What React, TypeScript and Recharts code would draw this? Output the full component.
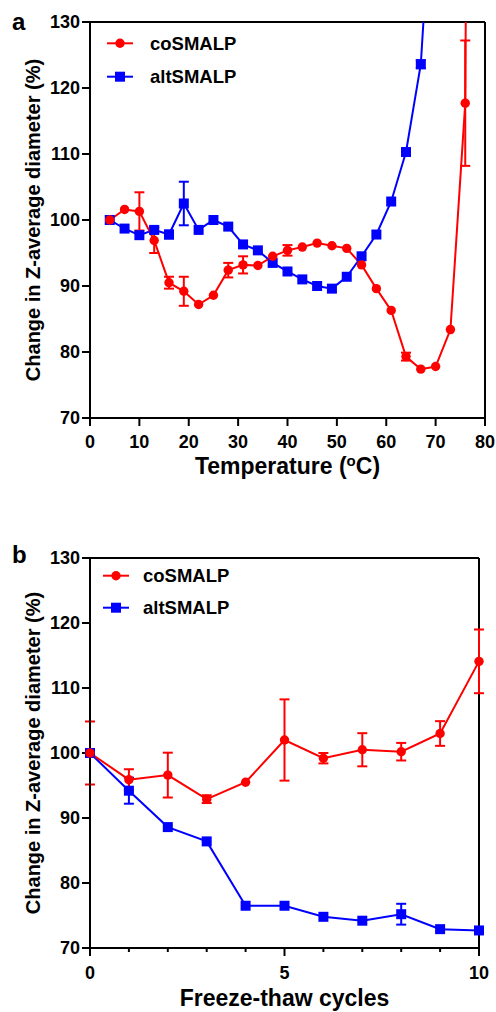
import React from "react";
import { LineChart, Line, XAxis, YAxis, ErrorBar, ReferenceLine } from "recharts";

const RED = "#FF0000";
const BLUE = "#0000FF";
const FONT = '"Liberation Sans", Arial, Helvetica, sans-serif';

// panel a: temperature scan
const tempTicks = [0, 10, 20, 30, 40, 50, 60, 70, 80];
const coTempX = [4, 7, 10, 13, 16, 19, 22, 25, 28, 31, 34, 37, 40, 43, 46, 49, 52, 55, 58, 61, 64, 67, 70, 73, 76, 79];
const coTempY = [100, 101.6, 101.3, 96.9, 90.5, 89.2, 87.2, 88.6, 92.4, 93.2, 93.1, 94.5, 95.4, 95.9, 96.5, 96.1, 95.7, 93.2, 89.6, 86.3, 79.3, 77.4, 77.8, 83.4, 117.7, 500];
const coTempErr = [null, null, 2.9, 1.9, 0.9, 2.2, null, null, 1.1, 1.3, null, null, 0.8, null, null, null, null, null, null, null, 0.6, null, null, null, 9.5, null];
const altTempX = [4, 7, 10, 13, 16, 19, 22, 25, 28, 31, 34, 37, 40, 43, 46, 49, 52, 55, 58, 61, 64, 67, 70];
const altTempY = [100, 98.7, 97.7, 98.5, 97.8, 102.5, 98.5, 100, 99.0, 96.3, 95.4, 93.5, 92.2, 91.0, 90.0, 89.6, 91.4, 94.5, 97.8, 102.8, 110.3, 123.6, 160];
const altTempErr = [null, null, null, 0.5, 0.6, 3.3, null, null, null, null, null, null, null, null, null, null, null, null, null, null, null, 0.6, null];

// panel b: freeze-thaw cycles
const cycleTicks = [0, 1, 2, 3, 4, 5, 6, 7, 8, 9, 10];
const cycles = [0, 1, 2, 3, 4, 5, 6, 7, 8, 9, 10];
const coCycleY = [100, 95.9, 96.6, 92.9, 95.5, 102.0, 99.2, 100.5, 100.2, 103.0, 114.1];
const coCycleErr = [4.85, 1.6, 3.45, 0.6, null, 6.25, 0.8, 2.55, 1.35, 1.9, 4.9];
const altCycleY = [100, 94.2, 88.6, 86.4, 76.5, 76.5, 74.8, 74.2, 75.2, 72.9, 72.7];
const altCycleErr = [null, 2.0, null, null, null, null, null, null, 1.6, null, null];

const yTicks = [70, 80, 90, 100, 110, 120, 130];
const Y_MAX = 130;

const toRows = (xs: number[], ys: number[], es: (number | null)[]) =>
  xs.map((x, i) => ({ x, y: ys[i], e: es[i] }));

const circleDot = (p: any) =>
  p.payload.y > Y_MAX ? (
    <g key={`c-${p.index}`} />
  ) : (
    <circle key={`c-${p.index}`} cx={p.cx} cy={p.cy} r={4.7} fill={RED} stroke="none" />
  );

const squareDot = (p: any) =>
  p.payload.y > Y_MAX ? (
    <g key={`s-${p.index}`} />
  ) : (
    <rect key={`s-${p.index}`} x={p.cx - 5} y={p.cy - 5} width={10} height={10} fill={BLUE} stroke="none" />
  );

const tickStyle = { fill: "#000", fontSize: 18, fontWeight: 700, fontFamily: FONT };

const yLabel = (props: any) => {
  const vb = props.viewBox;
  const cy = vb.y + vb.height / 2;
  return (
    <text
      x={40}
      y={cy}
      transform={`rotate(-90 40 ${cy})`}
      textAnchor="middle"
      fontFamily={FONT}
      fontWeight={700}
      fontSize={20}
      fill="#000"
    >
      Change in Z-average diameter (%)
    </text>
  );
};

const tempLabel = (props: any) => {
  const vb = props.viewBox;
  return (
    <text
      x={vb.x + vb.width / 2}
      y={vb.y + 56}
      textAnchor="middle"
      fontFamily={FONT}
      fontWeight={700}
      fontSize={23}
      fill="#000"
    >
      <tspan>Temperature (</tspan>
      <tspan dy={-8} fontSize={15}>o</tspan>
      <tspan dy={8}>C)</tspan>
    </text>
  );
};

const cycleLabel = (props: any) => {
  const vb = props.viewBox;
  return (
    <text
      x={vb.x + vb.width / 2}
      y={vb.y + 58}
      textAnchor="middle"
      fontFamily={FONT}
      fontWeight={700}
      fontSize={23}
      fill="#000"
    >
      Freeze-thaw cycles
    </text>
  );
};

// minor ticks are shorter, labels only on 0, 5, 10
const CycleTick = (props: any) => {
  const { x, y, payload } = props;
  const axisY = y - 18;
  const major = payload.value % 5 === 0;
  return (
    <g>
      <line x1={x} x2={x} y1={axisY} y2={axisY + (major ? 8 : 4)} stroke="#000" strokeWidth={2} />
      {major && (
        <text x={x} y={y} dy="0.71em" textAnchor="middle" {...tickStyle}>
          {payload.value}
        </text>
      )}
    </g>
  );
};

const LegendOverlay = ({ top, lineX, textX, rowGap }: any) => (
  <svg width={496} height={170} style={{ position: "absolute", left: 0, top: 0, pointerEvents: "none" }}>
    <g transform={`translate(0 ${top})`}>
      <line x1={lineX} x2={lineX + 26} y1={0} y2={0} stroke={RED} strokeWidth={2} />
      <circle cx={lineX + 13} cy={0} r={4.7} fill={RED} />
      <text x={textX} y={6.5} fontFamily={FONT} fontWeight={700} fontSize={18.5} fill="#000">
        coSMALP
      </text>
      <line x1={lineX} x2={lineX + 26} y1={rowGap} y2={rowGap} stroke={BLUE} strokeWidth={2} />
      <rect x={lineX + 8} y={rowGap - 5} width={10} height={10} fill={BLUE} />
      <text x={textX} y={rowGap + 6.5} fontFamily={FONT} fontWeight={700} fontSize={18.5} fill="#000">
        altSMALP
      </text>
    </g>
  </svg>
);

const PanelLetter = ({ letter, y }: any) => (
  <div
    style={{
      position: "absolute",
      left: 12,
      top: y,
      fontFamily: FONT,
      fontWeight: 700,
      fontSize: 24,
      lineHeight: "24px",
      color: "#000",
    }}
  >
    {letter}
  </div>
);

export default function App() {
  const coTemp = toRows(coTempX, coTempY, coTempErr);
  const altTemp = toRows(altTempX, altTempY, altTempErr);
  const coCycle = toRows(cycles, coCycleY, coCycleErr);
  const altCycle = toRows(cycles, altCycleY, altCycleErr);

  return (
    <div style={{ position: "absolute", left: 0, top: 0, width: 496, height: 1012, background: "#fff" }}>
      {/* panel a */}
      <div style={{ position: "absolute", left: 0, top: 0, width: 496, height: 490 }}>
        <LineChart width={496} height={490} margin={{ top: 22, right: 11, bottom: 0, left: 0 }}>
          <XAxis
            dataKey="x"
            type="number"
            domain={[0, 80]}
            ticks={tempTicks}
            allowDataOverflow
            height={72}
            axisLine={{ stroke: "#000", strokeWidth: 2 }}
            tickLine={{ stroke: "#000", strokeWidth: 2 }}
            tickSize={8}
            tickMargin={9}
            tick={tickStyle}
            label={tempLabel}
          />
          <YAxis
            type="number"
            domain={[70, 130]}
            ticks={yTicks}
            allowDataOverflow
            width={90}
            axisLine={{ stroke: "#000", strokeWidth: 2 }}
            tickLine={{ stroke: "#000", strokeWidth: 2 }}
            tickSize={8}
            tickMargin={2}
            tick={tickStyle}
            label={yLabel}
          />
          <ReferenceLine y={130} stroke="#000" strokeWidth={2} />
          <ReferenceLine x={80} stroke="#000" strokeWidth={2} />
          <Line
            data={altTemp}
            dataKey="y"
            stroke={BLUE}
            strokeWidth={2}
            dot={squareDot}
            activeDot={false}
            isAnimationActive={false}
          >
            <ErrorBar dataKey="e" width={5} stroke={BLUE} strokeWidth={2} direction="y" />
          </Line>
          <Line
            data={coTemp}
            dataKey="y"
            stroke={RED}
            strokeWidth={2}
            dot={circleDot}
            activeDot={false}
            isAnimationActive={false}
          >
            <ErrorBar dataKey="e" width={5} stroke={RED} strokeWidth={2} direction="y" />
          </Line>
        </LineChart>
        <LegendOverlay top={43.3} lineX={107} textX={150} rowGap={33.4} />
        <PanelLetter letter="a" y={10} />
      </div>

      {/* panel b */}
      <div style={{ position: "absolute", left: 0, top: 490, width: 496, height: 522 }}>
        <LineChart width={496} height={522} margin={{ top: 68, right: 17, bottom: 0, left: 0 }}>
          <XAxis
            dataKey="x"
            type="number"
            domain={[0, 10]}
            ticks={cycleTicks}
            height={64}
            axisLine={{ stroke: "#000", strokeWidth: 2 }}
            tickLine={false}
            tickSize={8}
            tickMargin={10}
            tick={<CycleTick />}
            label={cycleLabel}
          />
          <YAxis
            type="number"
            domain={[70, 130]}
            ticks={yTicks}
            allowDataOverflow
            width={90}
            axisLine={{ stroke: "#000", strokeWidth: 2 }}
            tickLine={{ stroke: "#000", strokeWidth: 2 }}
            tickSize={8}
            tickMargin={2}
            tick={tickStyle}
            label={yLabel}
          />
          <ReferenceLine y={130} stroke="#000" strokeWidth={2} />
          <ReferenceLine x={10} stroke="#000" strokeWidth={2} />
          <Line
            data={altCycle}
            dataKey="y"
            stroke={BLUE}
            strokeWidth={2}
            dot={squareDot}
            activeDot={false}
            isAnimationActive={false}
          >
            <ErrorBar dataKey="e" width={5} stroke={BLUE} strokeWidth={2} direction="y" />
          </Line>
          <Line
            data={coCycle}
            dataKey="y"
            stroke={RED}
            strokeWidth={2}
            dot={circleDot}
            activeDot={false}
            isAnimationActive={false}
          >
            <ErrorBar dataKey="e" width={5} stroke={RED} strokeWidth={2} direction="y" />
          </Line>
        </LineChart>
        <LegendOverlay top={85.7} lineX={103} textX={143} rowGap={32} />
        <PanelLetter letter="b" y={53} />
      </div>
    </div>
  );
}
